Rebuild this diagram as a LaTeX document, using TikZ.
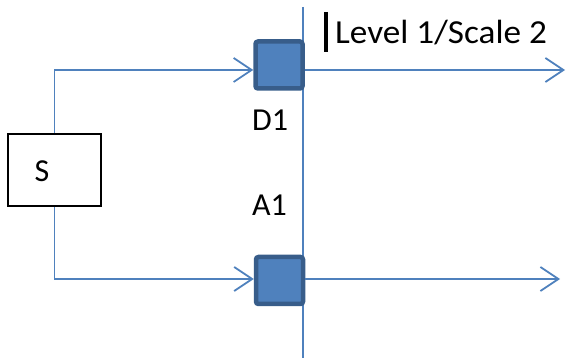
\documentclass[tikz,border=0pt]{standalone}
\usepackage{fontspec}
\setmainfont{Carlito}
\usetikzlibrary{arrows.meta}
\definecolor{lineblue}{HTML}{4F81BD}
\definecolor{boxfill}{HTML}{4F81BD}
\definecolor{boxborder}{HTML}{385D8A}
\begin{document}
\begin{tikzpicture}[x=1pt,y=-1pt,
  conn/.style={draw=lineblue,line width=1.8pt},
  arr/.style={conn,-{Straight Barb[length=18pt,width=24pt,line width=1.8pt]}},
  sq/.style={draw=boxborder,fill=boxfill,line width=4.5pt,rounded corners=2.5pt,minimum width=47pt,minimum height=47pt,inner sep=0pt},
  lbl/.style={font=\fontsize{32}{38}\selectfont,text=black,inner sep=0pt}]
\useasboundingbox (0,0) rectangle (568,358);
% S box
\node[draw=black,line width=1.6pt,minimum width=93pt,minimum height=72pt,inner sep=0pt] (S) at (54.5,170) {};
\node[lbl] (Slbl) at (42,171) {S};
% vertical axis
\coordinate (vtop) at (303,7);
\coordinate (vbot) at (303,358);
\draw[conn] (vtop) -- (vbot);
% squares
\node[sq] (D1sq) at (279,65) {};
\node[sq] (A1sq) at (279.5,280.5) {};
% connectors
\draw[arr] (S.north) |- ([yshift=-5pt]D1sq.west);
\draw[arr] (S.south) |- ([yshift=1.5pt]A1sq.west);
\coordinate (outtop) at (565,70);
\coordinate (outbot) at (560,279);
\draw[arr] ([yshift=-5pt]D1sq.east) -- (outtop);
\draw[arr] ([yshift=1.5pt]A1sq.east) -- (outbot);
% labels
\node[lbl,anchor=west] (D1) at (252,120) {D1};
\node[lbl,anchor=west] (A1) at (252,205) {A1};
\node[lbl,anchor=base west] (lev) at (335,44) {\scalebox{1.1}[1.05]{Level 1/Scale 2}};
\coordinate (bartop) at (326,12);
\coordinate (barbot) at (326,52);
\draw[black,line width=3.5pt] (bartop) -- (barbot);
\end{tikzpicture}
\end{document}
